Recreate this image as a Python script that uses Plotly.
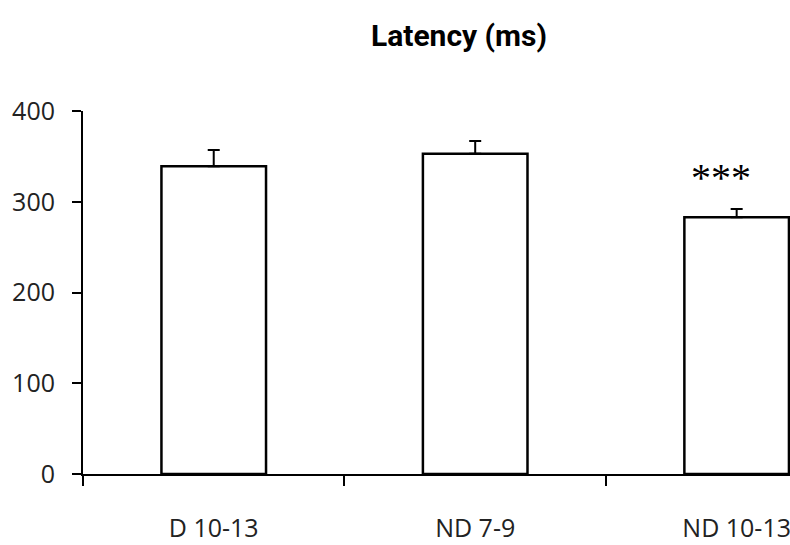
import plotly.graph_objects as go

categories = ["D 10-13", "ND 7-9", "ND 10-13"]
latency = [339, 353, 283]
sem = [18, 14, 9]
y_ticks = [0, 100, 200, 300, 400]
sig_label = "***"

fig = go.Figure()
fig.add_trace(go.Bar(
    x=categories, y=latency,
    marker=dict(color="white", line=dict(color="black", width=2.5)),
    error_y=dict(type="data", symmetric=False, array=sem, arrayminus=[0]*len(sem),
                 color="black", thickness=2, width=6),
    hoverinfo="x+y",
))

fig.add_annotation(x=categories[2], y=332, text=sig_label, showarrow=False,
                   xshift=-16, yshift=-5,
                   font=dict(family="Liberation Serif", size=40, color="black"))

fig.update_layout(
    width=790, height=545,
    margin=dict(l=83, r=0, t=111, b=71, autoexpand=False),
    paper_bgcolor="white", plot_bgcolor="white",
    bargap=0.6, showlegend=False,
    title=dict(text="Latency (ms)", x=459/790, xanchor="center", y=1-35/545, yanchor="middle",
               font=dict(family="Roboto", size=30, color="black", weight="bold")),
    font=dict(family="Open Sans", size=25, color="#222"),
)
fig.update_xaxes(
    range=[-0.5, 2.204], showline=True, linecolor="black", linewidth=2,
    ticks="outside", tickson="boundaries", ticklen=10, tickwidth=2, tickcolor="black",
    ticklabelstandoff=31, showgrid=False, zeroline=False, automargin=False,
    tickfont=dict(family="Open Sans", size=25, color="#222"),
)
fig.update_yaxes(
    range=[0, 400], tickvals=y_ticks, showline=True, linecolor="black", linewidth=2,
    ticks="outside", ticklen=9, tickwidth=2, tickcolor="black",
    ticklabelstandoff=12, showgrid=False, zeroline=False, automargin=False,
    tickfont=dict(family="Open Sans", size=25, color="#222"),
)

fig.write_html("out.html", config={"displayModeBar": False},
               post_script="document.body.style.margin='0';")
